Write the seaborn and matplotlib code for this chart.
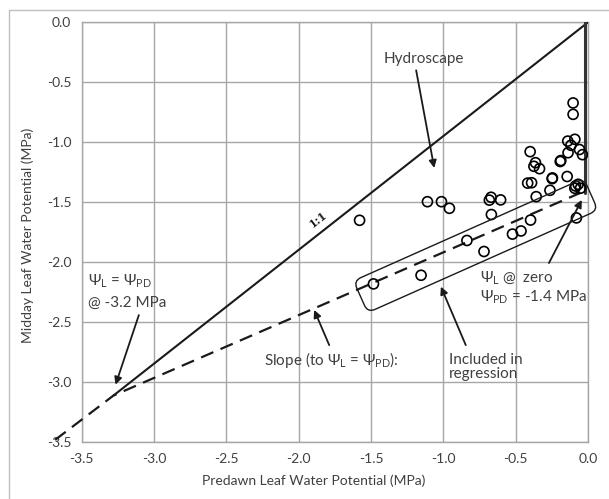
import numpy as np
import pandas as pd
import matplotlib
matplotlib.use("Agg")
import matplotlib.pyplot as plt
import matplotlib.transforms as mtransforms
from matplotlib.patches import FancyBboxPatch
from matplotlib.lines import Line2D
import seaborn as sns

# ---------------- data ----------------
predawn = [-0.103, -0.103, -0.140, -0.091, -0.118, -0.138, -0.059, -0.038,
           -0.400, -0.363, -0.374, -0.335, -0.192, -0.188, -0.248, -0.246,
           -0.144, -0.417, -0.390, -0.263, -0.358, -0.086, -0.068, -0.091,
           -0.052, -0.682, -0.670, -0.604, -0.668, -1.110, -1.013, -0.958,
           -1.579, -0.397, -0.080, -0.522, -0.463, -0.837, -0.719, -1.154,
           -1.483]
midday = [-0.672, -0.767, -0.990, -0.975, -1.025, -1.087, -1.060, -1.103,
          -1.078, -1.170, -1.200, -1.220, -1.160, -1.152, -1.303, -1.297,
          -1.285, -1.340, -1.337, -1.400, -1.453, -1.364, -1.350, -1.383,
          -1.383, -1.482, -1.458, -1.480, -1.602, -1.495, -1.495, -1.550,
          -1.650, -1.648, -1.630, -1.765, -1.739, -1.818, -1.910, -2.108,
          -2.180]

# reference lines
one_to_one_x = [0.0, -3.28]
one_to_one_y = [0.0, -3.11]
vertical_x = [-0.02, -0.02]
vertical_y = [0.0, -1.42]
dashed_x = [-3.684, -3.28, -0.05]
dashed_y = [-3.48, -3.11, -1.42]

tick_values = [-3.5, -3.0, -2.5, -2.0, -1.5, -1.0, -0.5, 0.0]
tick_labels = ["-3.5", "-3.0", "-2.5", "-2.0", "-1.5", "-1.0", "-0.5", "0.0"]

x_label = "Predawn Leaf Water Potential (MPa)"
y_label = "Midday Leaf Water Potential (MPa)"

df = pd.DataFrame({"predawn": predawn, "midday": midday})

# ---------------- style ----------------
sns.set_style("white")
plt.rcParams["font.family"] = ["Lato", "DejaVu Sans"]
plt.rcParams["mathtext.fontset"] = "custom"
plt.rcParams["mathtext.rm"] = "Lato"
plt.rcParams["mathtext.it"] = "Lato:italic"
plt.rcParams["mathtext.default"] = "regular"
plt.rcParams["axes.unicode_minus"] = False

TXT = "#404040"
GRID = "#a6a6a6"

W, H = 609, 499
fig = plt.figure(figsize=(W / 100, H / 100), dpi=100)
x0, x1, y0, y1 = 81.7, 588.0, 22.3, 442.3
ax = fig.add_axes([x0 / W, 1 - y1 / H, (x1 - x0) / W, (y1 - y0) / H])

ax.set_xlim(-3.5, 0.0)
ax.set_ylim(-3.5, 0.0)
ax.set_xticks(tick_values)
ax.set_xticklabels(tick_labels)
ax.set_yticks(tick_values)
ax.set_yticklabels(tick_labels)
ax.grid(True, color=GRID, lw=1.0)
ax.set_axisbelow(True)
for s in ax.spines.values():
    s.set_color(GRID)
    s.set_linewidth(1.0)
ax.tick_params(axis="both", which="major", length=3.5, width=1.0, color=GRID,
               labelsize=10, labelcolor=TXT, direction="out", pad=4)

# lines
ax.plot(one_to_one_x, one_to_one_y, color="#1a1a1a", lw=1.5, zorder=3)
ax.plot(vertical_x, vertical_y, color="#333333", lw=2.2, zorder=3)
ax.plot(dashed_x, dashed_y, color="#1a1a1a", lw=1.6, ls=(0, (6, 3.5)),
        zorder=3, clip_on=False)

# points
sns.scatterplot(data=df, x="predawn", y="midday", ax=ax, marker="o", s=52,
                facecolor="none", edgecolor="black", linewidth=1.2, zorder=4,
                legend=False)
ax.set_xlabel("")
ax.set_ylabel("")

# rounded "included in regression" box
fig.canvas.draw()
cx, cy = ax.transData.transform((-0.776, -1.86))
box = FancyBboxPatch((-126, -17.4), 252, 34.8,
                     boxstyle="round,pad=0,rounding_size=8",
                     fc="none", ec="#1a1a1a", lw=1.0, zorder=5,
                     transform=mtransforms.Affine2D().rotate_deg(24.0).translate(cx, cy))
fig.add_artist(box)

# annotations
arrow = dict(arrowstyle="-|>", color="#1a1a1a", lw=1.3,
             mutation_scale=11, shrinkA=0, shrinkB=0)
ax.annotate("", xy=(-1.063, -1.214), xytext=(-1.188, -0.40), arrowprops=arrow, zorder=6)
ax.text(-1.41, -0.31, "Hydroscape", fontsize=11, color=TXT, va="center", ha="left")

ax.text(-1.865, -1.64, "1:1", fontsize=8, fontweight="bold", family="DejaVu Serif",
        rotation=38, ha="center", va="center", color="#1a1a1a")

ax.annotate("", xy=(-3.266, -3.02), xytext=(-3.105, -2.44), arrowprops=arrow, zorder=6)
ax.text(-3.457, -2.16, r"$\Psi_L$ = $\Psi_{PD}$", fontsize=11, color=TXT,
        va="center", ha="left")
ax.text(-3.457, -2.335, "@ -3.2 MPa", fontsize=11, color=TXT, va="center", ha="left")

ax.annotate("", xy=(-1.893, -2.397), xytext=(-1.789, -2.69), arrowprops=arrow, zorder=6)
ax.text(-2.24, -2.81, r"Slope (to $\Psi_L$ = $\Psi_{PD}$):", fontsize=11, color=TXT,
        va="center", ha="left")

ax.annotate("", xy=(-1.017, -2.203), xytext=(-0.845, -2.69), arrowprops=arrow, zorder=6)
ax.text(-0.96, -2.87, "Included in\nregression", fontsize=11, color=TXT,
        va="center", ha="left", linespacing=1.0)

ax.annotate("", xy=(-0.043, -1.48), xytext=(-0.27, -2.006), arrowprops=arrow, zorder=6)
ax.text(-0.745, -2.125, r"$\Psi_L$ @  zero", fontsize=11, color=TXT,
        va="center", ha="left")
ax.text(-0.745, -2.29, r"$\Psi_{PD}$ = -1.4 MPa", fontsize=11, color=TXT,
        va="center", ha="left")

# axis titles
fig.text(314 / W, 1 - 481 / H, x_label, fontsize=10, color=TXT, ha="center", va="center")
fig.text(28 / W, 1 - 235 / H, y_label, fontsize=10, color=TXT, ha="center",
         va="center", rotation=90)

# outer chart border
fig.add_artist(Line2D([9 / W, 1.0], [1 - 10 / H, 1 - 10 / H], color="#bfbfbf", lw=1.0))
fig.add_artist(Line2D([9 / W, 9 / W], [0.0, 1 - 10 / H], color="#bfbfbf", lw=1.0))

fig.savefig("out.png", dpi=100)
